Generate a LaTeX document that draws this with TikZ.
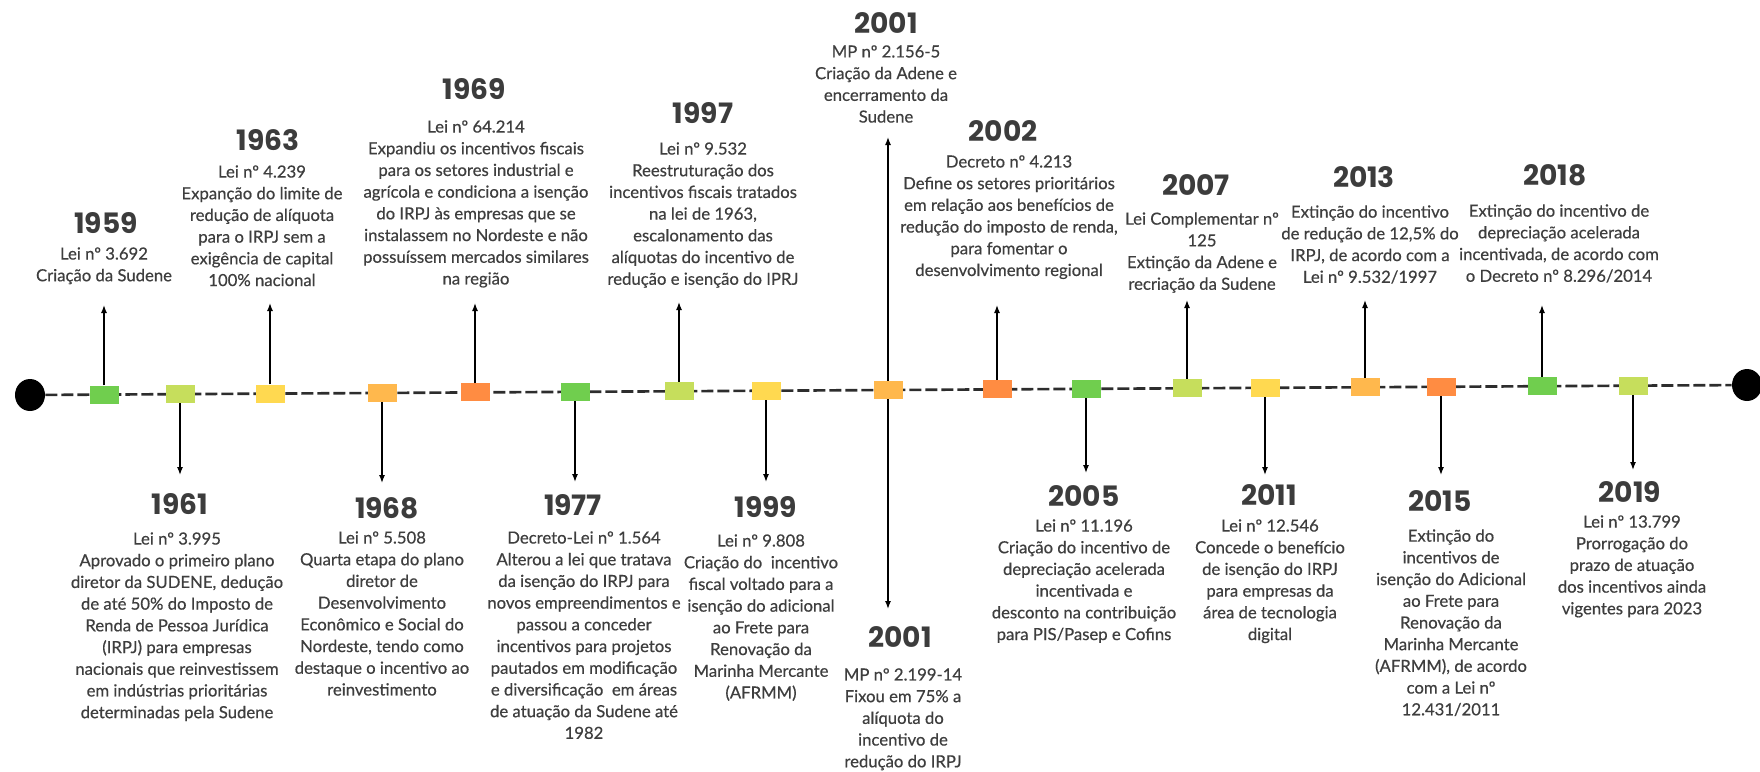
\documentclass[tikz,border=0pt]{standalone}
\usepackage{fontspec}
\setmainfont{Lato}
\newfontfamily\infofont{Lato}[FakeBold=0.5]
\newfontfamily\yearfont{Poppins}
\usetikzlibrary{arrows.meta,shapes.geometric}
\definecolor{tlgreen}{RGB}{112,206,78}
\definecolor{tllime}{RGB}{198,222,92}
\definecolor{tlyellow}{RGB}{255,217,80}
\definecolor{tllightorange}{RGB}{255,184,77}
\definecolor{tlorange}{RGB}{255,140,66}
\definecolor{yeargray}{RGB}{60,60,60}
\definecolor{infogray}{RGB}{62,62,62}
\definecolor{linegray}{RGB}{45,45,45}
\begin{document}
\begin{tikzpicture}[x=0.2mm,y=-0.2mm,
  year/.style={font={\yearfont\bfseries\fontsize{16}{18}\selectfont}, text=yeargray, inner sep=0pt},
  info/.style={font={\infofont\fontsize{9.5}{12.35}\selectfont}, text=infogray, align=center, inner sep=0pt, anchor=north},
  evbox/.style={minimum width=5.8mm, minimum height=3.6mm, inner sep=0pt},
  enddot/.style={ellipse, fill=black, minimum width=6mm, minimum height=6.4mm, inner sep=0pt},
  arr/.style={-{Latex[length=1.6mm,width=1.2mm]}, line width=0.75pt},
  timeline/.style={linegray, line width=1.5pt, dash pattern=on 2.4mm off 0.8mm}]

\useasboundingbox (0,0) rectangle (1760,771);

% the line
\node[enddot] (L) at (30,395) {};
\node[enddot] (R) at (1747,385) {};
\draw[timeline] (L) -- (R);

% events on the line
\node[evbox, fill=tlgreen] (s1959) at (104,394.6) {};
\node[evbox, fill=tllime] (s1961) at (180,394.1) {};
\node[evbox, fill=tlyellow] (s1963) at (270,393.6) {};
\node[evbox, fill=tllightorange] (s1968) at (382,392.9) {};
\node[evbox, fill=tlorange] (s1969) at (475,392.4) {};
\node[evbox, fill=tlgreen] (s1977) at (575,391.8) {};
\node[evbox, fill=tllime] (s1997) at (679,391.2) {};
\node[evbox, fill=tlyellow] (s1999) at (766,390.7) {};
\node[evbox, fill=tllightorange] (s2001) at (888,390.0) {};
\node[evbox, fill=tlorange] (s2002) at (997,389.4) {};
\node[evbox, fill=tlgreen] (s2005) at (1086,388.8) {};
\node[evbox, fill=tllime] (s2007) at (1187,388.3) {};
\node[evbox, fill=tlyellow] (s2011) at (1265,387.8) {};
\node[evbox, fill=tllightorange] (s2013) at (1365,387.2) {};
\node[evbox, fill=tlorange] (s2015) at (1441,386.8) {};
\node[evbox, fill=tlgreen] (s2018) at (1542,386.2) {};
\node[evbox, fill=tllime] (s2019) at (1633,385.7) {};

% arrow ends
\coordinate (a1959) at (104,305);
\coordinate (a1963) at (270,303);
\coordinate (a1969) at (475,303);
\coordinate (a1997) at (679,302);
\coordinate (a2001t) at (888,137);
\coordinate (a2002) at (997,305);
\coordinate (a2007) at (1187,300);
\coordinate (a2013) at (1365,300);
\coordinate (a2018) at (1542,305);
\coordinate (a1961) at (180,475);
\coordinate (a1968) at (382,483);
\coordinate (a1977) at (575,482);
\coordinate (a1999) at (766,482);
\coordinate (a2001b) at (888,609);
\coordinate (a2005) at (1086,473);
\coordinate (a2011) at (1265,475);
\coordinate (a2015) at (1441,475);
\coordinate (a2019) at (1633,470);

\draw[arr] (s1959) -- (a1959);
\draw[arr] (s1963) -- (a1963);
\draw[arr] (s1969) -- (a1969);
\draw[arr] (s1997) -- (a1997);
\draw[arr] (s2001) -- (a2001t);
\draw[arr] (s2002) -- (a2002);
\draw[arr] (s2007) -- (a2007);
\draw[arr] (s2013) -- (a2013);
\draw[arr] (s2018) -- (a2018);
\draw[arr] (s1961) -- (a1961);
\draw[arr] (s1968) -- (a1968);
\draw[arr] (s1977) -- (a1977);
\draw[arr] (s1999) -- (a1999);
\draw[arr] (s2001) -- (a2001b);
\draw[arr] (s2005) -- (a2005);
\draw[arr] (s2011) -- (a2011);
\draw[arr] (s2015) -- (a2015);
\draw[arr] (s2019) -- (a2019);

% above the line
\node[year] (y1959) at (106,223) {1959};
\node[info] (t1959) at (104,247) {Lei nº 3.692\\Criação da Sudene};
\node[year] (y1963) at (268,140) {1963};
\node[info] (t1963) at (262,165) {Lei nº 4.239\\Expanção do limite de\\redução de alíquota\\para o IRPJ sem a\\exigência de capital\\100\% nacional};
\node[year] (y1969) at (474,89) {1969};
\node[info] (t1969) at (476,120) {Lei nº 64.214\\Expandiu os incentivos fiscais\\para os setores industrial e\\agrícola e condiciona a isenção\\do IRPJ às empresas que se\\instalassem no Nordeste e não\\possuíssem mercados similares\\na região};
\node[year] (y1997) at (703,113) {1997};
\node[info] (t1997) at (703,142) {Lei nº 9.532\\Reestruturação dos\\incentivos fiscais tratados\\na lei de 1963,\\escalonamento das\\alíquotas do incentivo de\\redução e isenção do IPRJ};
\node[year] (y2001t) at (886,23) {2001};
\node[info] (t2001t) at (886,45) {MP nº 2.156-5\\Criação da Adene e\\encerramento da\\Sudene};
\node[year] (y2002) at (1003,131) {2002};
\node[info] (t2002) at (1009,155) {Decreto nº 4.213\\Define os setores prioritários\\em relação aos benefícios de\\redução do imposto de renda,\\para fomentar o\\desenvolvimento regional};
\node[year] (y2007) at (1196,185) {2007};
\node[info] (t2007) at (1202,212) {Lei Complementar nº\\125\\Extinção da Adene e\\recriação da Sudene};
\node[year] (y2013) at (1364,177) {2013};
\node[info] (t2013) at (1370,205) {Extinção do incentivo\\de redução de 12,5\% do\\IRPJ, de acordo com a\\Lei nº 9.532/1997};
\node[year] (y2018) at (1555,175) {2018};
\node[info] (t2018) at (1559,204) {Extinção do incentivo de\\depreciação acelerada\\incentivada, de acordo com\\o Decreto nº 8.296/2014};

% below the line
\node[year] (y1961) at (180,504) {1961};
\node[info] (t1961) at (177,532) {Lei nº 3.995\\Aprovado o primeiro plano\\diretor da SUDENE, dedução\\de até 50\% do Imposto de\\Renda de Pessoa Jurídica\\(IRPJ) para empresas\\nacionais que reinvestissem\\em indústrias prioritárias\\determinadas pela Sudene};
\node[year] (y1968) at (387,508) {1968};
\node[info] (t1968) at (382,531) {Lei nº 5.508\\Quarta etapa do plano\\diretor de\\Desenvolvimento\\Econômico e Social do\\Nordeste, tendo como\\destaque o incentivo ao\\reinvestimento};
\node[year] (y1977) at (573,505) {1977};
\node[info] (t1977) at (584,531) {Decreto-Lei nº 1.564\\Alterou a lei que tratava\\da isenção do IRPJ para\\novos empreendimentos e\\passou a conceder\\incentivos para projetos\\pautados em modificação\\e diversificação\ \ em áreas\\de atuação da Sudene até\\1982};
\node[year] (y1999) at (766,507) {1999};
\node[info] (t1999) at (761,534) {Lei nº 9.808\\Criação do\ \ incentivo\\fiscal voltado para a\\isenção do adicional\\ao Frete para\\Renovação da\\Marinha Mercante\\(AFRMM)};
\node[year] (y2001b) at (900,637) {2001};
\node[info] (t2001b) at (903,668) {MP nº 2.199-14\\Fixou em 75\% a\\alíquota do\\incentivo de\\redução do IRPJ};
\node[year] (y2005) at (1084,496) {2005};
\node[info] (t2005) at (1084,519) {Lei nº 11.196\\Criação do incentivo de\\depreciação acelerada\\incentivada e\\desconto na contribuição\\para PIS/Pasep e Cofins};
\node[year] (y2011) at (1269,495) {2011};
\node[info] (t2011) at (1270,519) {Lei nº 12.546\\Concede o benefício\\de isenção do IRPJ\\para empresas da\\área de tecnologia\\digital};
\node[year] (y2015) at (1440,501) {2015};
\node[info] (t2015) at (1451,529) {Extinção do\\incentivos de\\isenção do Adicional\\ao Frete para\\Renovação da\\Marinha Mercante\\(AFRMM), de acordo\\com a Lei nº\\12.431/2011};
\node[year] (y2019) at (1630,492) {2019};
\node[info] (t2019) at (1632,515) {Lei nº 13.799\\Prorrogação do\\prazo de atuação\\dos incentivos ainda\\vigentes para 2023};

\end{tikzpicture}
\end{document}
